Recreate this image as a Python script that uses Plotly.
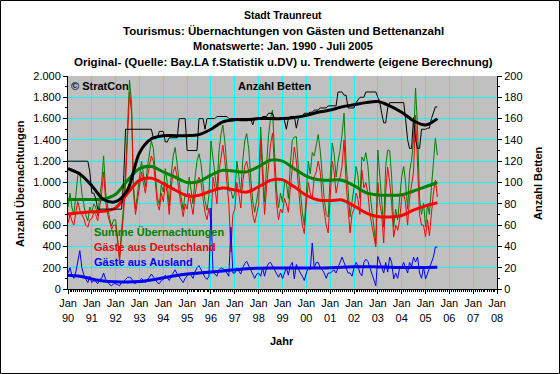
import plotly.graph_objects as go
import pandas as pd

# ---------------- data ----------------
months = pd.date_range("1990-01-01", "2005-07-01", freq="MS")

summe = [
    770, 900, 770, 700, 880, 1070, 1100, 900, 790, 690, 640, 770,
    720, 800, 770, 690, 870, 1000, 1250, 910, 770, 660, 590, 650,
    650, 490, 290, 560, 770, 1090, 1610, 1960, 1750, 960, 750, 890,
    1020, 1200, 1080, 960, 1140, 1260, 1390, 1320, 1090, 860, 790, 980,
    910, 1130, 1000, 780, 1070, 1250, 1330, 1190, 1010, 860, 740, 900,
    870, 1050, 950, 800, 1040, 1200, 1270, 1180, 990, 830, 740, 880,
    1390, 1210, 1090, 920, 1280, 1450, 1540, 1380, 1150, 920, 927, 850,
    900, 1200, 1070, 900, 1200, 1390, 1460, 1320, 1050, 830, 720, 840,
    950, 1520, 1200, 820, 1150, 1440, 1600, 1680, 1280, 940, 760, 900,
    814, 1000, 1000, 850, 1170, 1400, 1427, 1430, 1130, 900, 720, 600,
    950, 1200, 1080, 1282, 1250, 1350, 1450, 1300, 1030, 850, 700, 676,
    1050, 1371, 1280, 1050, 1200, 1300, 1450, 1650, 1200, 950, 676, 820,
    950, 1150, 1070, 850, 1240, 1200, 1280, 1160, 900, 750, 600, 424,
    1305, 1050, 900, 582, 1150, 1305, 1300, 1050, 582, 750, 650, 850,
    1052, 1150, 1000, 750, 1100, 1211, 1400, 1887, 1500, 850, 700, 808,
    582, 800, 700, 950, 1200, 1418, 1258,
]

deutschland = [
    620, 700, 640, 600, 720, 820, 740, 700, 660, 600, 580, 650,
    660, 720, 700, 640, 780, 900, 1100, 820, 700, 620, 560, 600,
    600, 450, 260, 500, 700, 1000, 1500, 1850, 1650, 900, 700, 820,
    950, 1100, 1000, 900, 1050, 1150, 1250, 1200, 1000, 800, 740, 900,
    820, 1000, 900, 700, 950, 1100, 1150, 1050, 900, 780, 680, 800,
    750, 900, 820, 700, 880, 1000, 1050, 1000, 850, 720, 650, 760,
    630, 1050, 950, 800, 1100, 1250, 1350, 1200, 1000, 800, 347, 700,
    750, 1000, 900, 760, 1000, 1150, 1200, 1100, 880, 700, 620, 700,
    800, 1400, 1000, 700, 950, 1200, 1350, 1465, 1100, 800, 650, 750,
    714, 850, 800, 720, 950, 1150, 1333, 1200, 950, 750, 600, 520,
    800, 1000, 900, 850, 1050, 1100, 1200, 1100, 850, 700, 600, 526,
    900, 1200, 1100, 900, 1000, 1050, 1150, 1400, 1000, 800, 526, 700,
    750, 900, 850, 700, 1117, 950, 1000, 900, 700, 600, 500, 394,
    1000, 800, 700, 432, 900, 1146, 1000, 800, 488, 600, 550, 650,
    850, 900, 800, 600, 850, 1000, 1100, 1634, 1200, 700, 600, 600,
    488, 650, 500, 700, 900, 1023, 864,
]

ausland = [
    150, 200, 130, 100, 160, 250, 360, 200, 130, 90, 60, 120,
    60, 80, 70, 50, 90, 100, 150, 90, 70, 40, 30, 50,
    50, 40, 30, 60, 70, 90, 110, 110, 100, 60, 50, 70,
    70, 100, 80, 60, 90, 110, 140, 120, 90, 60, 50, 80,
    90, 130, 100, 80, 120, 150, 180, 140, 110, 80, 60, 100,
    120, 150, 130, 100, 160, 200, 220, 180, 140, 110, 90, 120,
    760, 160, 140, 120, 180, 200, 190, 180, 150, 120, 580, 150,
    150, 200, 170, 140, 200, 240, 260, 220, 170, 130, 100, 140,
    150, 120, 200, 120, 200, 240, 250, 215, 180, 140, 110, 150,
    100, 150, 200, 130, 220, 250, 94, 230, 180, 150, 120, 80,
    150, 200, 180, 432, 200, 250, 250, 200, 180, 150, 100, 150,
    150, 171, 180, 150, 200, 250, 300, 250, 200, 150, 150, 120,
    200, 250, 220, 150, 123, 250, 280, 260, 200, 150, 100, 30,
    305, 250, 200, 150, 250, 159, 300, 250, 94, 150, 100, 200,
    202, 250, 200, 150, 250, 211, 300, 253, 300, 150, 100, 208,
    94, 150, 200, 250, 300, 395, 394,
]

betten = [
    120, 120, 120, 120, 120, 120, 120, 120, 120, 120, 120, 110,
    90, 90, 85, 75, 75, 75, 75, 75, 75, 75, 75, 75,
    75, 75, 75, 75, 100, 150, 150, 150, 150, 150, 150, 150,
    150, 150, 150, 150, 150, 150, 150, 142, 142, 142, 148, 148,
    148, 138, 138, 142, 142, 142, 142, 142, 160, 160, 160, 160,
    130, 130, 130, 130, 130, 130, 160, 160, 160, 150, 160, 160,
    160, 160, 160, 162, 162, 162, 162, 162, 162, 160, 160, 160,
    160, 160, 160, 160, 160, 160, 160, 160, 160, 154, 160, 160,
    160, 160, 162, 162, 162, 165, 165, 165, 160, 160, 160, 160,
    160, 158, 150, 160, 162, 162, 162, 151, 160, 162, 162, 165,
    165, 165, 166, 166, 168, 168, 168, 170, 170, 170, 170, 172,
    172, 172, 172, 172, 185, 185, 185, 182, 182, 170, 170, 170,
    170, 175, 178, 180, 180, 180, 185, 185, 185, 185, 185, 185,
    180, 175, 165, 156, 156, 170, 175, 175, 175, 175, 175, 175,
    175, 175, 160, 140, 132, 132, 161, 140, 132, 132, 150, 150,
    150, 151, 151, 160, 165, 171, 171,
]

# trend values (Jan / Jul of each year)
trend_dates = pd.date_range("1990-01-01", "2005-07-01", freq="6MS")
trend_summe = [840, 840, 840, 845, 890, 1020, 1130, 1150, 1100, 1050, 1000, 1010,
               1070, 1115, 1105, 1100, 1150, 1210, 1200, 1130, 1060, 1025, 1022, 1022,
               970, 905, 883, 880, 885, 920, 960, 1000]
trend_de = [705, 715, 725, 730, 760, 900, 1020, 1040, 990, 930, 875, 880,
            920, 948, 930, 910, 960, 1020, 1025, 960, 880, 836, 830, 836,
            780, 715, 680, 676, 690, 740, 780, 810]
trend_aus = [130, 120, 95, 75, 68, 66, 70, 85, 105, 125, 140, 150,
             160, 170, 180, 190, 196, 198, 198, 198, 198, 198, 200, 205,
             208, 210, 207, 204, 202, 202, 203, 205]
trend_betten = [113, 108, 97, 84, 82, 93, 128, 141, 144, 144, 144, 145,
                150, 157, 159, 159, 160, 160, 160, 161, 163, 166, 168, 171,
                173, 175, 176, 172, 166, 158, 154, 160]

x_tick_years = list(range(1990, 2009))
x_tick_text = ["Jan<br>%02d" % (y % 100) for y in x_tick_years]
y_tick_vals = list(range(0, 2001, 200))
y_tick_text = ["0", "200", "400", "600", "800", "1.000", "1.200", "1.400", "1.600", "1.800", "2.000"]
y2_tick_vals = list(range(0, 201, 20))

# ---------------- figure ----------------
W, H = 560, 374
L, R, T, B = 68, 63, 76, 85
PW, PH = W - L - R, H - T - B


def px(xp):
    return (xp - L) / PW


def py(yp):
    return (H - B - yp) / PH


FONT = "Liberation Sans, Arial, sans-serif"
GREEN, RED, BLUE, BLACK = "#008000", "#ff0000", "#0000ff", "#000000"

fig = go.Figure()
fig.add_trace(go.Scatter(x=months, y=summe, mode="lines", line=dict(color=GREEN, width=1)))
fig.add_trace(go.Scatter(x=months, y=deutschland, mode="lines", line=dict(color=RED, width=1)))
fig.add_trace(go.Scatter(x=months, y=ausland, mode="lines", line=dict(color=BLUE, width=1)))
fig.add_trace(go.Scatter(x=trend_dates, y=trend_summe, mode="lines",
                         line=dict(color=GREEN, width=3, shape="spline", smoothing=0.9)))
fig.add_trace(go.Scatter(x=trend_dates, y=trend_de, mode="lines",
                         line=dict(color=RED, width=3, shape="spline", smoothing=0.9)))
fig.add_trace(go.Scatter(x=trend_dates, y=trend_aus, mode="lines",
                         line=dict(color=BLUE, width=3, shape="spline", smoothing=0.9)))
fig.add_trace(go.Scatter(x=months, y=betten, mode="lines", yaxis="y2",
                         line=dict(color=BLACK, width=1)))
fig.add_trace(go.Scatter(x=trend_dates, y=trend_betten, mode="lines", yaxis="y2",
                         line=dict(color=BLACK, width=3, shape="spline", smoothing=0.9)))

tickfont = dict(family=FONT, size=11, color="black")
fig.update_layout(
    template="none",
    width=W, height=H,
    margin=dict(l=L, r=R, t=T, b=B, pad=0, autoexpand=False),
    paper_bgcolor="white", plot_bgcolor="#c0c0c0",
    showlegend=False,
    font=dict(family=FONT, size=11, color="black"),
    xaxis=dict(
        type="date", range=["1990-01-01", "2008-01-01"], automargin=False,
        tickvals=["%d-01-01" % y for y in x_tick_years], ticktext=x_tick_text,
        tickangle=0, tickfont=tickfont,
        showgrid=True, gridcolor="#00ffff", gridwidth=1,
        ticks="outside", ticklen=4, tickcolor="black", tickwidth=1,
        showline=True, linecolor="black", linewidth=1, zeroline=False,
        minor=dict(dtick="M1", ticks="outside", ticklen=2, tickcolor="black", showgrid=False),
    ),
    yaxis=dict(
        range=[0, 2000], tickvals=y_tick_vals, ticktext=y_tick_text, tickfont=tickfont,
        automargin=False,
        showgrid=True, gridcolor="#00ffff", gridwidth=1,
        ticks="outside", ticklen=4, tickcolor="black", tickwidth=1,
        showline=True, linecolor="black", linewidth=1, zeroline=False,
        minor=dict(dtick=100, ticks="outside", ticklen=2, tickcolor="black", showgrid=False),
    ),
    yaxis2=dict(
        range=[0, 200], overlaying="y", side="right", tickvals=y2_tick_vals, tickfont=tickfont,
        automargin=False,
        showgrid=False, ticks="outside", ticklen=4, tickcolor="black", tickwidth=1,
        showline=True, linecolor="black", linewidth=1, zeroline=False,
        minor=dict(dtick=10, ticks="outside", ticklen=2, tickcolor="black", showgrid=False),
    ),
)

annotations = []
title_lines = [
    ("Stadt Traunreut", 15, 10.5),
    ("Tourismus: Übernachtungen von Gästen und Bettenanzahl", 31, 11.5),
    ("Monatswerte: Jan. 1990 - Juli 2005", 46, 11),
    ("Original- (Quelle: Bay.LA f.Statistik u.DV) u. Trendwerte (eigene Berechnung)", 62, 11.5),
]
for text, yp, size in title_lines:
    annotations.append(dict(text="<b>%s</b>" % text, xref="paper", yref="paper",
                            x=px(283), y=py(yp), xanchor="center", yanchor="middle",
                            showarrow=False, font=dict(family=FONT, size=size, color="black")))

inner = [
    ("© StratCon", 69, 86, "left", BLACK),
    ("Anzahl Betten", 275, 86, "center", BLACK),
    ("Summe Übernachtungen", 92, 232, "left", GREEN),
    ("Gäste aus Deutschland", 92, 247, "left", RED),
    ("Gäste aus Ausland", 92, 262, "left", BLUE),
]
for text, xp, yp, anchor, col in inner:
    annotations.append(dict(text="<b>%s</b>" % text, xref="paper", yref="paper",
                            x=px(xp), y=py(yp), xanchor=anchor, yanchor="middle",
                            showarrow=False, font=dict(family=FONT, size=11, color=col)))

annotations.append(dict(text="<b>Anzahl Übernachtungen</b>", xref="paper", yref="paper",
                        x=px(20), y=py(184), textangle=-90, xanchor="center", yanchor="middle",
                        showarrow=False, font=dict(family=FONT, size=11, color="black")))
annotations.append(dict(text="<b>Anzahl Betten</b>", xref="paper", yref="paper",
                        x=px(538), y=py(183), textangle=-90, xanchor="center", yanchor="middle",
                        showarrow=False, font=dict(family=FONT, size=11, color="black")))
annotations.append(dict(text="<b>Jahr</b>", xref="paper", yref="paper",
                        x=px(282), y=py(341), xanchor="center", yanchor="middle",
                        showarrow=False, font=dict(family=FONT, size=11, color="black")))
fig.update_layout(annotations=annotations)

fig.add_shape(type="rect", xref="paper", yref="paper",
              x0=px(0.5), x1=px(W - 0.5), y0=py(H - 0.5), y1=py(0.5),
              line=dict(color="black", width=1), fillcolor="rgba(0,0,0,0)", layer="above")

fig.write_html(
    "out.html",
    config={"displayModeBar": False},
    post_script="document.body.style.margin='0';document.body.style.padding='0';",
)
